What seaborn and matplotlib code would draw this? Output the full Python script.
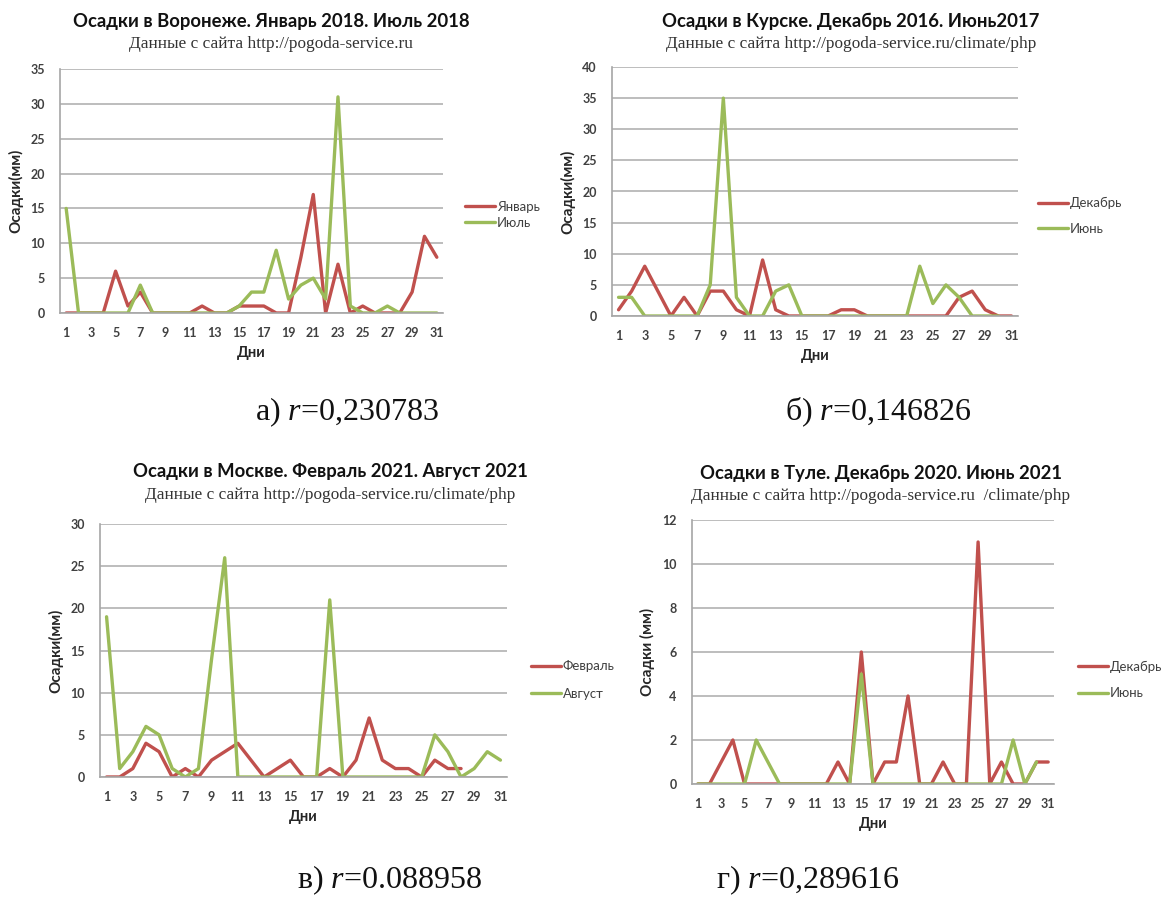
import matplotlib
matplotlib.use("Agg")
import matplotlib.pyplot as plt
import pandas as pd
import seaborn as sns

# --- data (mm per day) ---
days31 = list(range(1, 32))
days30 = list(range(1, 31))
days28 = list(range(1, 29))

voronezh_jan = [0, 0, 0, 0, 6, 1, 3, 0, 0, 0, 0, 1, 0, 0, 1, 1, 1, 0, 0, 8, 17, 0, 7, 0, 1, 0, 0, 0, 3, 11, 8]
voronezh_jul = [15, 0, 0, 0, 0, 0, 4, 0, 0, 0, 0, 0, 0, 0, 1, 3, 3, 9, 2, 4, 5, 2, 31, 1, 0, 0, 1, 0, 0, 0, 0]
kursk_dec = [1, 4, 8, 4, 0, 3, 0, 4, 4, 1, 0, 9, 1, 0, 0, 0, 0, 1, 1, 0, 0, 0, 0, 0, 0, 0, 3, 4, 1, 0, 0]
kursk_jun = [3, 3, 0, 0, 0, 0, 0, 5, 35, 3, 0, 0, 4, 5, 0, 0, 0, 0, 0, 0, 0, 0, 0, 8, 2, 5, 3, 0, 0, 0]
moscow_feb = [0, 0, 1, 4, 3, 0, 1, 0, 2, 3, 4, 2, 0, 1, 2, 0, 0, 1, 0, 2, 7, 2, 1, 1, 0, 2, 1, 1]
moscow_aug = [19, 1, 3, 6, 5, 1, 0, 1, 14, 26, 0, 0, 0, 0, 0, 0, 0, 21, 0, 0, 0, 0, 0, 0, 0, 5, 3, 0, 1, 3, 2]
tula_dec = [0, 0, 1, 2, 0, 0, 0, 0, 0, 0, 0, 0, 1, 0, 6, 0, 1, 1, 4, 0, 0, 1, 0, 0, 11, 0, 1, 0, 0, 1, 1]
tula_jun = [0, 0, 0, 0, 0, 2, 1, 0, 0, 0, 0, 0, 0, 0, 5, 0, 0, 0, 0, 0, 0, 0, 0, 0, 0, 0, 0, 2, 0, 1]

xticks = list(range(1, 32, 2))

RED = "#C0504D"
GREEN = "#9BBB59"
W, H = 1161, 897

sns.set_style("white")
plt.rcParams["font.family"] = ["Lato", "DejaVu Sans"]
plt.rcParams["mathtext.fontset"] = "custom"
plt.rcParams["mathtext.rm"] = "Liberation Serif"
plt.rcParams["mathtext.it"] = "Liberation Serif:italic"

fig = plt.figure(figsize=(W / 100, H / 100), dpi=100)


def px_axes(left, top, right, bottom):
    return fig.add_axes([left / W, 1 - bottom / H, (right - left) / W, (bottom - top) / H])


def draw_panel(box, first, second, names, ymax, ystep, ylabel, title, subtitle,
               title_xy, legend_xy, legend_gap):
    left, top, right, bottom = box
    ax = px_axes(*box)
    df = pd.concat([
        pd.DataFrame({"day": first[0], "mm": first[1], "month": names[0]}),
        pd.DataFrame({"day": second[0], "mm": second[1], "month": names[1]}),
    ])
    sns.lineplot(data=df, x="day", y="mm", hue="month", hue_order=names,
                 palette=[RED, GREEN], linewidth=2.4, ax=ax, legend=False)
    ax.set_xlim(0.5, 31.5)
    ax.set_ylim(0, ymax)
    ax.set_yticks(range(0, ymax + 1, ystep))
    ax.set_xticks(xticks)
    ax.yaxis.grid(True, color="#BDBDBD", linewidth=1.4)
    ax.set_axisbelow(True)
    for s in ["top", "right"]:
        ax.spines[s].set_visible(False)
    for s in ["left", "bottom"]:
        ax.spines[s].set_color("#A6A6A6")
        ax.spines[s].set_linewidth(1.2)
    ax.tick_params(axis="y", length=0, labelsize=9, labelcolor="#404040", pad=11)
    ax.tick_params(axis="x", length=0, labelsize=9, labelcolor="#404040", pad=10)
    for lab in ax.get_xticklabels() + ax.get_yticklabels():
        lab.set_fontweight("bold")
    ax.set_xlabel("Дни", fontsize=10.5, fontweight="bold", labelpad=5)
    ax.set_ylabel(ylabel, fontsize=11, fontweight="bold", labelpad=5)

    fig.text(title_xy[0] / W, 1 - title_xy[1] / H, title, ha="center", va="center",
             fontsize=13.3, fontweight="bold", color="#111111")
    fig.text(title_xy[0] / W, 1 - (title_xy[1] + 23) / H, subtitle, ha="center", va="center",
             fontsize=12.4, family="Liberation Serif", color="#333333")

    handles = [plt.Line2D([], [], color=RED, linewidth=2.4),
               plt.Line2D([], [], color=GREEN, linewidth=2.4)]
    lx = (legend_xy[0] - left) / (right - left)
    ly = (bottom - legend_xy[1]) / (bottom - top)
    leg = ax.legend(handles, names, loc="center left", bbox_to_anchor=(lx, ly),
                    frameon=False, fontsize=9.5, handlelength=2.3, handletextpad=0.1,
                    borderpad=0, borderaxespad=0, labelspacing=legend_gap)
    for t in leg.get_texts():
        t.set_color("#404040")
    return ax


draw_panel((60, 69, 443, 313), (days31, voronezh_jan), (days31, voronezh_jul),
           ["Январь", "Июль"], 35, 5, "Осадки(мм)",
           "Осадки в Воронеже. Январь 2018. Июль 2018",
           "Данные с сайта http://pogoda-service.ru",
           (271, 21), (465, 215), 0.3)

draw_panel((612, 67, 1018, 316), (days31, kursk_dec), (days30, kursk_jun),
           ["Декабрь", "Июнь"], 40, 5, "Осадки(мм)",
           "Осадки в Курске. Декабрь 2016. Июнь2017",
           "Данные с сайта http://pogoda-service.ru/climate/php",
           (851, 21), (1038, 216), 1.0)

draw_panel((100, 524, 507, 777), (days28, moscow_feb), (days31, moscow_aug),
           ["Февраль", "Август"], 30, 5, "Осадки(мм)",
           "Осадки в Москве. Февраль 2021. Август 2021",
           "Данные с сайта http://pogoda-service.ru/climate/php",
           (330, 472), (531, 680), 1.15)

draw_panel((692, 520, 1054, 784), (days31, tula_dec), (days30, tula_jun),
           ["Декабрь", "Июнь"], 12, 2, "Осадки (мм)",
           "Осадки в Туле. Декабрь 2020. Июнь 2021",
           "Данные с сайта http://pogoda-service.ru  /climate/php",
           (881, 473), (1078, 680), 1.1)

captions = [("а) $\\mathit{r}$=0,230783", 347, 412),
            ("б) $\\mathit{r}$=0,146826", 878, 412),
            ("в) $\\mathit{r}$=0.088958", 390, 880),
            ("г) $\\mathit{r}$=0,289616", 808, 880)]
for txt, cx, cy in captions:
    fig.text(cx / W, 1 - cy / H, txt, ha="center", va="center",
             fontsize=23, family="Liberation Serif", color="#111111")

fig.savefig("out.png", dpi=100)
